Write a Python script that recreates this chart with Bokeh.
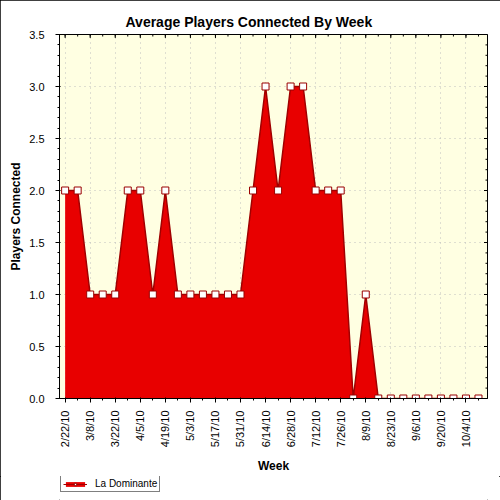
from bokeh.plotting import figure
from bokeh.layouts import column
from bokeh.models import (ColumnDataSource, FixedTicker, Range1d,
                          Legend, LegendItem, NumeralTickFormatter)
from bokeh.embed import file_html
from bokeh.resources import INLINE

weeks = ["2/22/10", "3/1/10", "3/8/10", "3/15/10", "3/22/10", "3/29/10",
         "4/5/10", "4/12/10", "4/19/10", "4/26/10", "5/3/10", "5/10/10",
         "5/17/10", "5/24/10", "5/31/10", "6/7/10", "6/14/10", "6/21/10",
         "6/28/10", "7/5/10", "7/12/10", "7/19/10", "7/26/10", "8/2/10",
         "8/9/10", "8/16/10", "8/23/10", "8/30/10", "9/6/10", "9/13/10",
         "9/20/10", "9/27/10", "10/4/10", "10/11/10"]
players = [2, 2, 1, 1, 1, 2, 2, 1, 2, 1, 1, 1, 1, 1, 1, 2, 3, 2, 3, 3,
           2, 2, 2, 0, 1, 0, 0, 0, 0, 0, 0, 0, 0, 0]
y_ticks = [0.0, 0.5, 1.0, 1.5, 2.0, 2.5, 3.0, 3.5]
y_minor = [i / 10 for i in range(36)]
series_name = "La Dominante"

idx = list(range(len(weeks)))
major_idx = idx[::2]
src = ColumnDataSource(dict(x=idx, y=players, week=weeks))

FONT = "Liberation Sans"
FILL = "#E80000"
EDGE = "#A00000"
X0, X1, Y0, Y1 = -0.45, 33.72, 0, 3.5

p = figure(width=500, height=476, output_backend="svg", toolbar_location=None,
           x_range=Range1d(X0, X1), y_range=Range1d(Y0, Y1),
           min_border_left=59, min_border_right=13, min_border_top=34,
           min_border_bottom=77, background_fill_color="#FFFFE2",
           border_fill_color="white", outline_line_color="black",
           title="Average Players Connected By Week")

p.title.text_font = FONT
p.title.text_font_size = "14px"
p.title.text_font_style = "bold"
p.title.text_color = "black"
p.title.align = "left"
p.title.offset = 66
p.title.standoff = 10

area = p.varea(x="x", y1=0, y2="y", source=src, fill_color=FILL)
p.line(x="x", y="y", source=src, line_color=EDGE, line_width=1.5)
p.scatter(x="x", y="y", source=src, marker="square", size=7,
          fill_color="white", line_color="#990000", line_width=1)

# inward ticks on top and right edges (half of each dash is clipped away)
p.scatter(x=major_idx, y=[Y1] * len(major_idx), marker="dash", size=7,
          angle=1.5708, line_color="black")
p.scatter(x=idx, y=[Y1] * len(idx), marker="dash", size=4,
          angle=1.5708, line_color="black")
p.scatter(x=[X1] * len(y_ticks), y=y_ticks, marker="dash", size=7,
          line_color="black")
p.scatter(x=[X1] * len(y_minor), y=y_minor, marker="dash", size=4,
          line_color="black")

# axes
xa = p.xaxis[0]
xa.ticker = FixedTicker(ticks=major_idx, minor_ticks=idx)
xa.major_label_overrides = {i: weeks[i] for i in major_idx}
xa.major_label_orientation = 1.5708
xa.axis_label = "Week"
ya = p.yaxis[0]
ya.ticker = FixedTicker(ticks=y_ticks, minor_ticks=y_minor)
ya.formatter = NumeralTickFormatter(format="0.0")
ya.axis_label = "Players Connected"
for ax in (xa, ya):
    ax.axis_line_color = "black"
    ax.major_tick_line_color = "black"
    ax.minor_tick_line_color = "black"
    ax.major_tick_in = 1
    ax.major_tick_out = 4
    ax.minor_tick_in = 0
    ax.minor_tick_out = 2
    ax.major_label_text_font = FONT
    ax.major_label_text_font_size = "11px"
    ax.major_label_text_color = "black"
    ax.axis_label_text_font = FONT
    ax.axis_label_text_font_size = "12px"
    ax.axis_label_text_font_style = "bold"
    ax.axis_label_text_color = "black"
xa.major_label_standoff = 8
xa.axis_label_standoff = 9
ya.major_label_standoff = 11
ya.axis_label_standoff = 3

p.xgrid.ticker = FixedTicker(ticks=major_idx)
p.ygrid.ticker = FixedTicker(ticks=y_ticks)
for g in (p.xgrid, p.ygrid):
    g.grid_line_color = "#BEBEBE"
    g.grid_line_dash = "1 4"

# legend strip below the chart
q = figure(width=500, height=24, output_backend="svg", toolbar_location=None,
           x_range=Range1d(-100, -99), y_range=Range1d(-100, -99),
           x_axis_type=None, y_axis_type=None, min_border=0,
           outline_line_color=None, background_fill_color="white",
           border_fill_color="white")
q.grid.visible = False
q_area = q.varea(x="x", y1=0, y2="y", source=src, fill_color=FILL)
q_line = q.line(x="x", y="y", source=src, line_color=EDGE, line_width=1)
q_pts = q.scatter(x="x", y="y", source=src, marker="square", size=7,
                  fill_color="white", line_color="#990000", line_width=1)
legend = Legend(items=[LegendItem(label=series_name,
                                  renderers=[q_area, q_line, q_pts])],
                location=(1, 8), orientation="vertical",
                border_line_color="black", border_line_width=1,
                background_fill_color="white", background_fill_alpha=1,
                label_text_font=FONT, label_text_font_size="10px",
                label_text_color="black",
                glyph_width=24, glyph_height=6, label_height=10,
                padding=2, margin=0, spacing=0, label_standoff=8)
q.add_layout(legend)

layout = column(p, q, spacing=0)
layout.styles = {"outline": "1px solid black", "outline-offset": "-1px"}

open("out.html", "w").write(file_html(layout, INLINE))
